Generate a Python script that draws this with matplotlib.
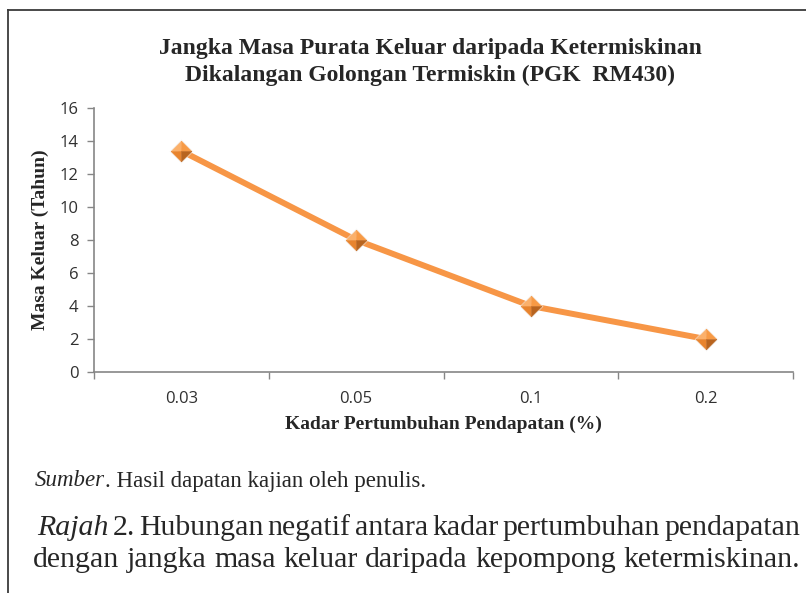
import matplotlib
matplotlib.use("Agg")
import matplotlib.pyplot as plt
from matplotlib.lines import Line2D

categories = ["0.03", "0.05", "0.1", "0.2"]
values = [13.4, 8.0, 4.0, 2.0]
yticks = [0, 2, 4, 6, 8, 10, 12, 14, 16]

title = "Jangka Masa Purata Keluar daripada Ketermiskinan\nDikalangan Golongan Termiskin (PGK  RM430)"
xlabel = "Kadar Pertumbuhan Pendapatan (%)"
ylabel = "Masa Keluar (Tahun)"

W, H = 806, 593
fig = plt.figure(figsize=(W / 100, H / 100), dpi=100)
ax = fig.add_axes([94 / W, 1 - 372 / H, (793 - 94) / W, (372 - 108) / H])

xs = list(range(len(categories)))
ax.plot(xs, values, color="#F79646", lw=4.3, solid_capstyle="round", zorder=2)

# faceted diamond markers (pyramid look)
c = (0, 0)
L, T, R, B = (-1, 0), (0, 1), (1, 0), (0, -1)
facets = [((L, T, c, L), "#FBB06A"), ((T, R, c, T), "#F79A45"),
          ((L, B, c, L), "#E8842E"), ((R, B, c, R), "#B8641F")]
ax.plot(xs, values, ls="none", marker="D", ms=12.5, mfc="#f0f0f0", mec="none", alpha=0.6, zorder=2.5)
for verts, col in facets:
    ax.plot(xs, values, ls="none", marker=list(verts), ms=15, mfc=col, mec=col, mew=0.3, zorder=3)

ax.set_xlim(-0.5, len(categories) - 0.5)
ax.set_ylim(0, 16)
ax.set_yticks(yticks)
ax.set_yticklabels([str(v) for v in yticks])
ax.set_xticks([i - 0.5 for i in range(len(categories) + 1)])
ax.set_xticklabels([])
ax.set_xticks(xs, minor=True)
ax.set_xticklabels(categories, minor=True)
ax.tick_params(axis="x", which="minor", length=0, pad=14)
ax.tick_params(axis="x", which="major", length=5, color="#868686", width=1, direction="out")
ax.tick_params(axis="y", length=5, color="#868686", width=1, direction="out", pad=6)
for lab in ax.get_xticklabels(minor=True) + ax.get_yticklabels():
    lab.set_fontfamily("Open Sans")
    lab.set_fontsize(12)
    lab.set_color("#303030")
for s in ["top", "right"]:
    ax.spines[s].set_visible(False)
for s in ["left", "bottom"]:
    ax.spines[s].set_color("#868686")
    ax.spines[s].set_linewidth(1.2)

serif = ["Liberation Serif", "DejaVu Serif"]
fig.text(430 / W, 1 - 62 / H, title, ha="center", va="center", fontsize=17, fontweight="bold",
         family=serif, color="#262626", linespacing=1.42)
fig.text(443 / W, 1 - 424 / H, xlabel, ha="center", va="center", fontsize=14, fontweight="bold",
         family=serif, color="#262626")
fig.text(40 / W, 1 - 240 / H, ylabel, ha="center", va="center", fontsize=14, fontweight="bold",
         family=serif, color="#262626", rotation=90)

renderer = fig.canvas.get_renderer()


def justify(words, x0, x1, ypix, size, styles=None):
    styles = styles or ["normal"] * len(words)
    arts = []
    for w, st in zip(words, styles):
        arts.append(fig.text(0, 1 - ypix / H, w, ha="left", va="center", fontsize=size, style=st,
                             family=serif, color="#262626"))
    widths = [a.get_window_extent(renderer).width for a in arts]
    gap = ((x1 - x0) - sum(widths)) / (len(words) - 1)
    x = x0
    for a, wd in zip(arts, widths):
        a.set_x(x / W)
        x += wd + gap


t1 = fig.text(35 / W, 1 - 481 / H, "Sumber", ha="left", va="center", fontsize=16.5, style="italic",
              family=serif, color="#262626")
bb = t1.get_window_extent(renderer)
fig.text(bb.x1 / W, 1 - 481 / H, ". Hasil dapatan kajian oleh penulis.", ha="left", va="center",
         fontsize=16.5, family=serif, color="#262626")

line1 = ["Rajah", "2.", "Hubungan", "negatif", "antara", "kadar", "pertumbuhan", "pendapatan"]
st1 = ["italic"] + ["normal"] * (len(line1) - 1)
justify(line1, 37, 800, 528, 21.5, st1)
line2 = ["dengan", "jangka", "masa", "keluar", "daripada", "kepompong", "ketermiskinan."]
justify(line2, 33, 800, 560, 21.5)

fig.add_artist(Line2D([8 / W, 1], [1 - 10 / H, 1 - 10 / H], transform=fig.transFigure, color="#3a3a3a", lw=1.3))
fig.add_artist(Line2D([8 / W, 8 / W], [1 - 10 / H, 0], transform=fig.transFigure, color="#3a3a3a", lw=1.3))

fig.savefig("out.png", dpi=100)
